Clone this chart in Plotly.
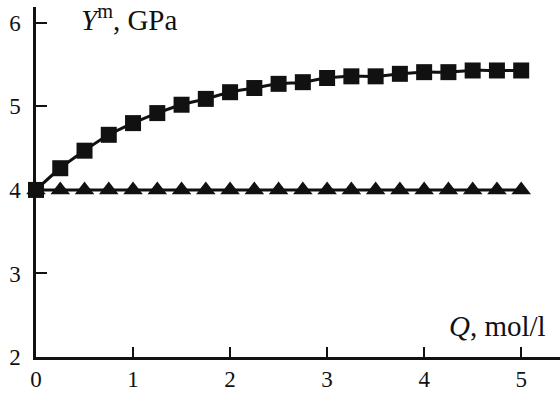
import plotly.graph_objects as go

# Data
q_values = [0, 0.25, 0.5, 0.75, 1.0, 1.25, 1.5, 1.75, 2.0, 2.25, 2.5, 2.75,
            3.0, 3.25, 3.5, 3.75, 4.0, 4.25, 4.5, 4.75, 5.0]
y_squares = [4.00, 4.26, 4.47, 4.66, 4.80, 4.92, 5.02, 5.09, 5.17, 5.22, 5.27,
             5.29, 5.34, 5.36, 5.36, 5.39, 5.41, 5.41, 5.43, 5.43, 5.43]
y_triangles = [4.00] * 21

x_ticks = [0, 1, 2, 3, 4, 5]
y_ticks = [2, 3, 4, 5, 6]

FONT = "'Liberation Serif', 'Times New Roman', serif"
TICKFONT = dict(family=FONT, size=23, color="#111111")

fig = go.Figure()
fig.add_trace(go.Scatter(
    x=q_values, y=y_triangles, mode="lines+markers",
    line=dict(color="#111111", width=3),
    marker=dict(symbol="triangle-up", size=17, color="#111111"),
    showlegend=False, cliponaxis=False))
fig.add_trace(go.Scatter(
    x=q_values, y=y_squares, mode="lines+markers",
    line=dict(color="#111111", width=3, shape="spline", smoothing=1.0),
    marker=dict(symbol="square", size=16, color="#111111"),
    showlegend=False, cliponaxis=False))

fig.update_layout(
    width=560, height=395,
    margin=dict(l=36, r=0, t=7, b=38),
    paper_bgcolor="white", plot_bgcolor="white",
    font=dict(family=FONT, size=23, color="#111111"),
    xaxis=dict(range=[0, 5.4], tickmode="array", tickvals=x_ticks,
               ticktext=[str(v) for v in x_ticks], ticks="inside", ticklen=10,
               tickwidth=1.5, tickcolor="#111111", showline=True,
               linecolor="#111111", linewidth=2.5, showgrid=False,
               zeroline=False, tickfont=TICKFONT),
    yaxis=dict(range=[2, 6.19], tickmode="array", tickvals=y_ticks,
               ticktext=[str(v) for v in y_ticks], ticks="inside", ticklen=11,
               tickwidth=1.5, tickcolor="#111111", showline=True,
               linecolor="#111111", linewidth=2.5, showgrid=False,
               zeroline=False, tickfont=TICKFONT, ticklabelstandoff=8),
    annotations=[
        dict(text="<i>Y</i><sup>m</sup>, GPa", xref="paper", yref="paper",
             x=(79 - 36) / 524, y=1.025, xanchor="left", yanchor="top",
             showarrow=False, font=dict(size=29, family=FONT, color="#111111")),
        dict(text="<i>Q</i>, mol/l", xref="paper", yref="paper",
             x=(548 - 36) / 524, y=(357 - 344) / 350, xanchor="right",
             yanchor="bottom", showarrow=False,
             font=dict(size=29, family=FONT, color="#111111")),
    ],
)

fig.write_html("out.html")
